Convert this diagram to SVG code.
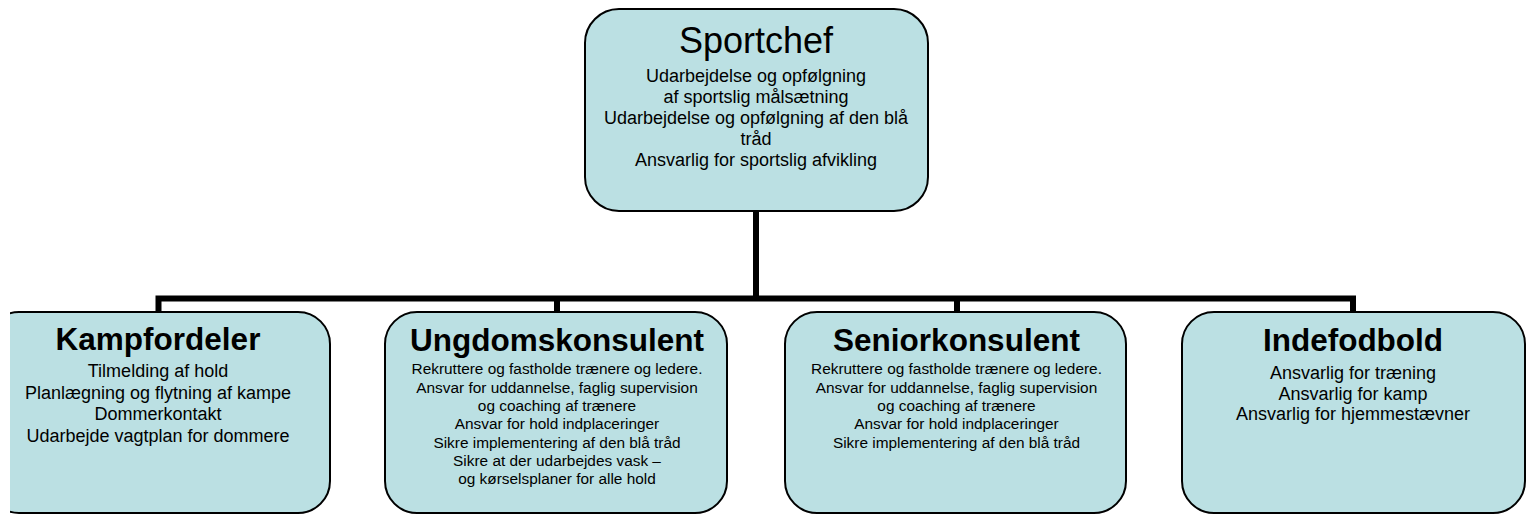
<svg xmlns="http://www.w3.org/2000/svg" width="1530" height="517" viewBox="0 0 1530 517">
<style>
.box{fill:#BBE0E3;stroke:#000;stroke-width:2}
.conn{fill:none;stroke:#000;stroke-width:6;stroke-linejoin:miter}
text{font-family:"Liberation Sans",Arial,sans-serif;fill:#000;text-anchor:middle}
.h{font-weight:bold;font-size:31.5px}
.t{font-size:36px}
.s{font-size:18px}
.m{font-size:15.4px}
</style>
<defs>
<clipPath id="clipL"><rect x="10" y="0" width="1520" height="517"/></clipPath>
</defs>
<rect width="1530" height="517" fill="#fff"/>
<g id="connectors">
<path class="conn" d="M756,211 V298.5"/>
<path class="conn" d="M158.5,312 V298.5 H1353 V312"/>
<path class="conn" d="M557,298.5 V312"/>
<path class="conn" d="M957,298.5 V312"/>
</g>
<g id="sportchef">
<rect class="box" x="585" y="9" width="343" height="202" rx="34" ry="34"/>
<text class="t" x="756" y="53">Sportchef</text>
<text class="s" x="756" y="81.5">Udarbejdelse og opfølgning</text>
<text class="s" x="756" y="102.5">af sportslig målsætning</text>
<text class="s" x="756" y="123.5">Udarbejdelse og opfølgning af den blå</text>
<text class="s" x="756" y="144.5">tråd</text>
<text class="s" x="756" y="166">Ansvarlig for sportslig afvikling</text>
</g>
<g id="kampfordeler">
<rect class="box" x="-13" y="312" width="343" height="201" rx="32" ry="32" clip-path="url(#clipL)"/>
<text class="h" x="158" y="350">Kampfordeler</text>
<text class="s" x="158" y="377">Tilmelding af hold</text>
<text class="s" x="158" y="398.5">Planlægning og flytning af kampe</text>
<text class="s" x="158" y="420">Dommerkontakt</text>
<text class="s" x="158" y="441.5">Udarbejde vagtplan for dommere</text>
</g>
<g id="ungdomskonsulent">
<rect class="box" x="385" y="312" width="342" height="201" rx="32" ry="32"/>
<text class="h" x="557" y="351">Ungdomskonsulent</text>
<text class="m" x="557" y="374.3">Rekruttere og fastholde trænere og ledere.</text>
<text class="m" x="557" y="392.6">Ansvar for uddannelse, faglig supervision</text>
<text class="m" x="557" y="410.9">og coaching af trænere</text>
<text class="m" x="557" y="429.2">Ansvar for hold indplaceringer</text>
<text class="m" x="557" y="447.5">Sikre implementering af den blå tråd</text>
<text class="m" x="557" y="465.8">Sikre at der udarbejdes vask –</text>
<text class="m" x="557" y="484.1">og kørselsplaner for alle hold</text>
</g>
<g id="seniorkonsulent">
<rect class="box" x="785" y="312" width="341" height="201" rx="32" ry="32"/>
<text class="h" x="956.5" y="351">Seniorkonsulent</text>
<text class="m" x="956.5" y="374.3">Rekruttere og fastholde trænere og ledere.</text>
<text class="m" x="956.5" y="392.6">Ansvar for uddannelse, faglig supervision</text>
<text class="m" x="956.5" y="410.9">og coaching af trænere</text>
<text class="m" x="956.5" y="429.2">Ansvar for hold indplaceringer</text>
<text class="m" x="956.5" y="447.5">Sikre implementering af den blå tråd</text>
</g>
<g id="indefodbold">
<rect class="box" x="1182" y="312" width="343" height="201" rx="32" ry="32"/>
<text class="h" x="1353" y="351">Indefodbold</text>
<text class="s" x="1353" y="379">Ansvarlig for træning</text>
<text class="s" x="1353" y="399.5">Ansvarlig for kamp</text>
<text class="s" x="1353" y="420">Ansvarlig for hjemmestævner</text>
</g>
</svg>
